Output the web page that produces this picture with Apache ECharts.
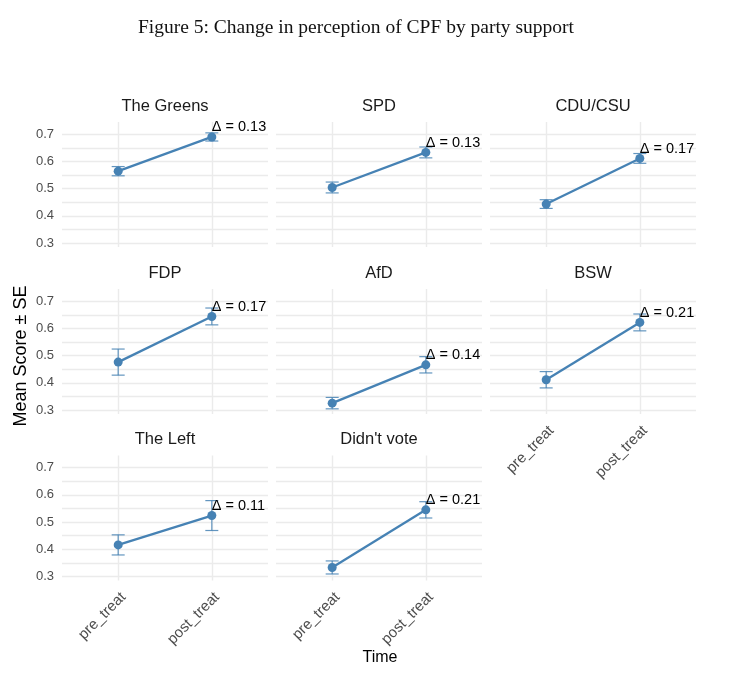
<!DOCTYPE html>
<html><head><meta charset="utf-8">
<script src="https://cdn.jsdelivr.net/npm/echarts@6/dist/echarts.min.js"></script>
<style>html,body{margin:0;padding:0;background:#fff}#c{width:732px;height:684px}</style>
</head><body><div id="c"></div>
<script>
const parties = ['The Greens', 'SPD', 'CDU/CSU', 'FDP', 'AfD', 'BSW', 'The Left', "Didn't vote"];
const timePoints = ['pre_treat', 'post_treat'];
const preMean  = [0.564, 0.504, 0.443, 0.476, 0.325, 0.411, 0.416, 0.333];
const preSE    = [0.017, 0.020, 0.016, 0.048, 0.021, 0.030, 0.037, 0.024];
const postMean = [0.690, 0.633, 0.611, 0.644, 0.466, 0.622, 0.524, 0.545];
const postSE   = [0.015, 0.020, 0.018, 0.031, 0.030, 0.031, 0.055, 0.030];
const deltaLabels = ['0.13', '0.13', '0.17', '0.17', '0.14', '0.21', '0.11', '0.21'];
const yTickLabels = [0.3, 0.4, 0.5, 0.6, 0.7];
const yGridValues = [0.3, 0.35, 0.4, 0.45, 0.5, 0.55, 0.6, 0.65, 0.7];

const colLeft = [62, 276, 490];
const rowTop = [122, 289, 455.5];
const panelW = 206, panelH = 125;
const blue = '#4682B4';
const grids = [], xAxes = [], yAxes = [], series = [], graphics = [];

parties.forEach((p, i) => {
  const col = i % 3, row = Math.floor(i / 3);
  const showX = (i >= 5);
  const showY = (col === 0);
  grids.push({left: colLeft[col], top: rowTop[row], width: panelW, height: panelH});
  xAxes.push({
    type: 'value', gridIndex: i, min: 0.4, max: 2.6,
    axisLine: {show: false},
    axisTick: {show: false, customValues: [1, 2]},
    axisLabel: {show: showX, customValues: [1, 2], formatter: v => timePoints[Math.round(v) - 1],
      rotate: 45, fontSize: 15, color: '#4d4d4d', margin: 9, verticalAlign: 'top', fontFamily: 'Liberation Sans'},
    splitLine: {show: true, lineStyle: {color: '#ebebeb', width: 1.4}}
  });
  yAxes.push({
    type: 'value', gridIndex: i, min: 0.285, max: 0.745,
    axisLine: {show: false},
    axisTick: {show: false, customValues: yGridValues},
    axisLabel: {show: showY, customValues: yTickLabels, formatter: v => v.toFixed(1),
      fontSize: 13, color: '#4d4d4d', margin: 8, fontFamily: 'Liberation Sans'},
    splitLine: {show: true, lineStyle: {color: '#ebebeb', width: 1.4}}
  });
  series.push({
    type: 'custom', xAxisIndex: i, yAxisIndex: i, z: 1,
    data: [[1, preMean[i] - preSE[i], preMean[i] + preSE[i]], [2, postMean[i] - postSE[i], postMean[i] + postSE[i]]],
    renderItem: (params, api) => {
      const lo = api.coord([api.value(0), api.value(1)]);
      const hi = api.coord([api.value(0), api.value(2)]);
      const hw = 6.5;
      const st = {stroke: blue, lineWidth: 1.2, opacity: 0.85};
      return {type: 'group', children: [
        {type: 'line', shape: {x1: lo[0], y1: lo[1], x2: hi[0], y2: hi[1]}, style: st},
        {type: 'line', shape: {x1: lo[0] - hw, y1: lo[1], x2: lo[0] + hw, y2: lo[1]}, style: st},
        {type: 'line', shape: {x1: hi[0] - hw, y1: hi[1], x2: hi[0] + hw, y2: hi[1]}, style: st}
      ]};
    }
  });
  series.push({
    type: 'line', xAxisIndex: i, yAxisIndex: i, z: 3,
    symbol: 'circle', symbolSize: 9,
    lineStyle: {color: blue, width: 2.3},
    itemStyle: {color: blue},
    data: [
      [1, preMean[i]],
      {value: [2, postMean[i]], label: {show: true, formatter: '\u0394 = ' + deltaLabels[i],
        position: [4.5, -5], align: 'left', verticalAlign: 'middle',
        fontSize: 14.5, color: '#000', fontFamily: 'Liberation Sans'}}
    ],
    animation: false
  });
  graphics.push({type: 'text', x: colLeft[col] + panelW / 2, y: rowTop[row] - 16,
    style: {text: p, fill: '#1a1a1a', font: '16.5px "Liberation Sans"', textAlign: 'center', textVerticalAlign: 'middle'}});
});

graphics.push({type: 'text', x: 356, y: 28,
  style: {text: 'Figure 5: Change in perception of CPF by party support', fill: '#111',
    font: '19.5px "Liberation Serif"', textAlign: 'center', textVerticalAlign: 'middle'}});
graphics.push({type: 'text', x: 21, y: 356, rotation: Math.PI / 2,
  style: {text: 'Mean Score \u00b1 SE', fill: '#000', font: '18px "Liberation Sans"', textAlign: 'center', textVerticalAlign: 'middle'}});
graphics.push({type: 'text', x: 380, y: 658,
  style: {text: 'Time', fill: '#000', font: '16px "Liberation Sans"', textAlign: 'center', textVerticalAlign: 'middle'}});

const chart = echarts.init(document.getElementById('c'));
chart.setOption({
  animation: false,
  backgroundColor: '#fff',
  grid: grids, xAxis: xAxes, yAxis: yAxes, series: series, graphic: graphics
});
</script></body></html>
